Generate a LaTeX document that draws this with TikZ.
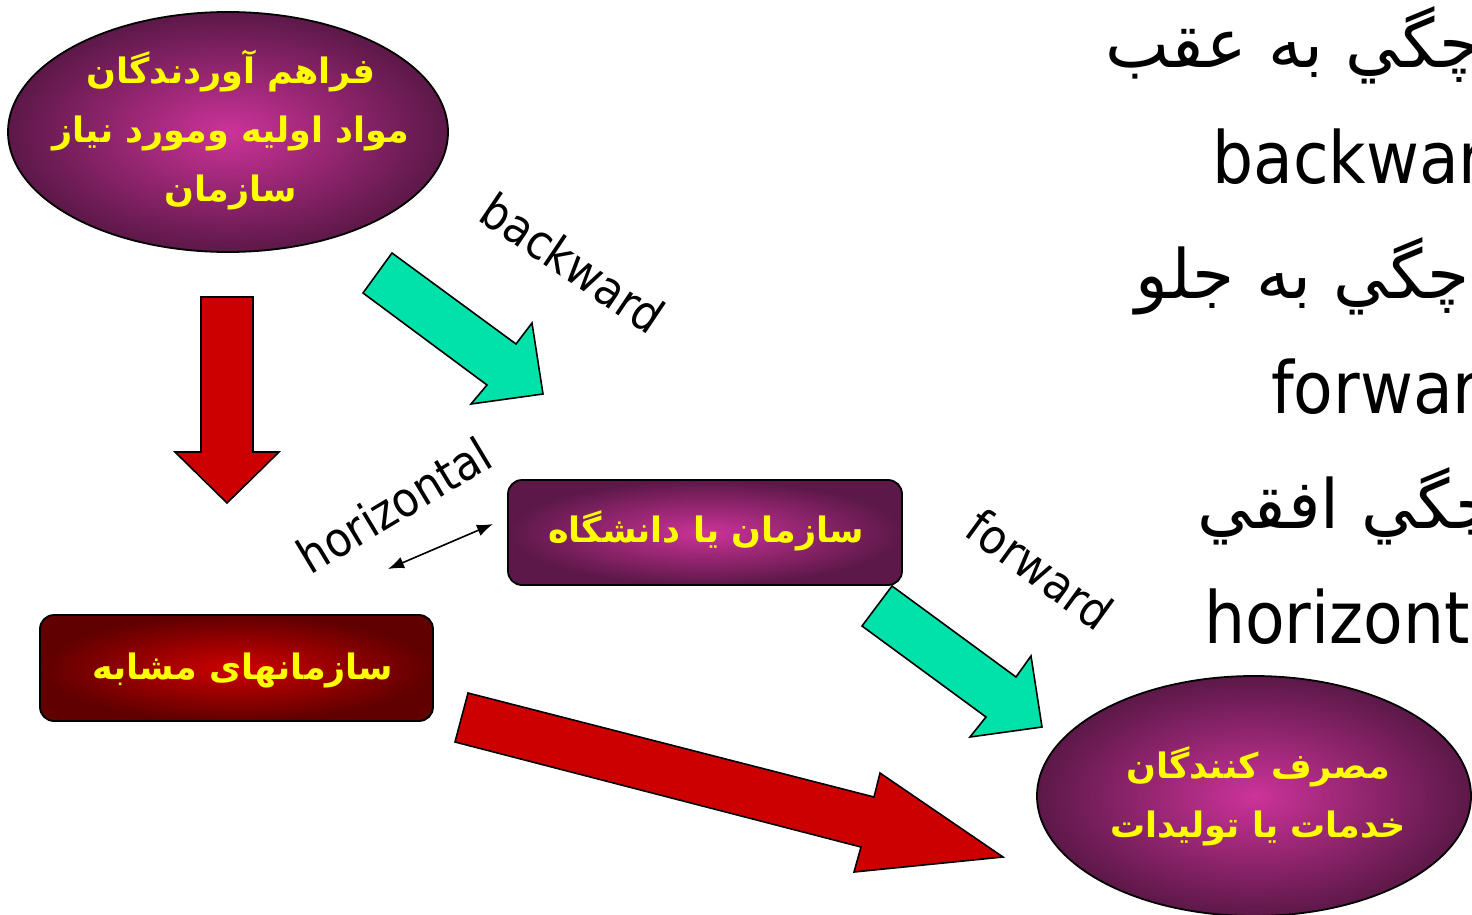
\documentclass[tikz,border=0pt]{standalone}
\usepackage{fontspec}
\usetikzlibrary{shapes.geometric,arrows.meta}
\TeXXeTstate=1
\newfontfamily\arabicfont[Script=Arabic]{DejaVu Sans}
\newfontfamily\latinfont{DejaVu Sans Condensed}
\definecolor{magc}{RGB}{204,51,153}
\definecolor{mage}{RGB}{92,24,72}
\definecolor{redc}{RGB}{206,0,0}
\definecolor{rede}{RGB}{96,0,0}
\definecolor{arrteal}{RGB}{0,226,170}
\definecolor{arrred}{RGB}{204,0,0}
\definecolor{txtyellow}{RGB}{255,255,0}
\tikzset{
  blockarrow/.style={draw=black, line width=1.6pt, line join=miter},
  purpleshade/.style={draw=black, line width=1.8pt, inner color=magc, outer color=mage},
  redshade/.style={draw=black, line width=1.8pt, inner color=redc, outer color=rede},
  nodetext/.style={text=txtyellow, align=center, inner sep=0pt,
    font=\arabicfont\bfseries\fontsize{35}{59}\selectfont},
  sidetext/.style={anchor=base west, inner sep=0pt, font=\fontsize{72}{86}\selectfont},
  difflabel/.style={inner sep=0pt, font=\latinfont\fontsize{48}{54}\selectfont},
}
\begin{document}
\begin{tikzpicture}[x=1pt,y=-1pt]
\path[use as bounding box, clip] (0,0) rectangle (1472,915);
\fill[white] (0,0) rectangle (1472,915);

% suppliers ellipse
\node[ellipse, purpleshade, minimum width=440pt, minimum height=240pt, inner sep=0pt] (sup) at (228,132) {};
\node[nodetext] (suptext) at (231,130) {\beginR فراهم آوردندگان\endR\\\beginR مواد اوليه ومورد نياز\endR\\\beginR سازمان\endR};

% organisation box
\node[rectangle, rounded corners=14pt, purpleshade, minimum width=394pt, minimum height=105pt] (org) at (705,532.5)
  {};
\node[nodetext] (orgtext) at (706,531) {\beginR سازمان يا دانشگاه\endR};

% similar organisations box
\node[rectangle, rounded corners=14pt, redshade, minimum width=393pt, minimum height=106pt] (sim) at (236.5,668)
  {};
\node[nodetext] (simtext) at (243,670) {\beginR سازمانهای مشابه\endR};

% consumers ellipse
\node[ellipse, purpleshade, minimum width=434pt, minimum height=240pt, inner sep=0pt] (con) at (1254,796) {};
\node[nodetext] (context) at (1258,796) {\beginR مصرف كنندگان\endR\\\beginR خدمات يا توليدات\endR};

% block arrows
\filldraw[blockarrow, fill=arrred] (201,297) -- (253,297) -- (253,452) -- (279,452) -- (227,503) -- (175,452) -- (201,452) -- cycle;
\filldraw[blockarrow, fill=arrteal] (392,253) -- (516,344) -- (532,323) -- (543,394) -- (471,404) -- (487,385) -- (363,293) -- cycle;
\filldraw[blockarrow, fill=arrteal] (892,586) -- (1016,677) -- (1031,656) -- (1042,727) -- (970,737) -- (986,717) -- (862,626) -- cycle;
\filldraw[blockarrow, fill=arrred] (468,693) -- (874,797) -- (880,773) -- (1003,857) -- (854,872) -- (861,847) -- (455,742) -- cycle;

% horizontal double arrow
\coordinate (hA) at (388,569);
\coordinate (hB) at (493,524);
\draw[line width=1.6pt, {Latex[length=16pt,width=12pt]}-{Latex[length=16pt,width=12pt]}] (hA) -- (hB);

% labels
\node[difflabel, rotate=-34] (lback) at (573,263) {backward};
\node[difflabel, rotate=31] (lhor) at (394,505) {horizontal};
\node[difflabel, rotate=-36] (lfor) at (1040,569) {forward};

% right-hand text
\node[sidetext, font=\arabicfont\fontsize{68}{86}\selectfont] (r1) at (1105,68) {\beginR چگي به عقب\endR};
\node[sidetext, font=\latinfont\fontsize{72}{86}\selectfont] (r2) at (1212,183) {backward};
\node[sidetext, font=\arabicfont\fontsize{68}{86}\selectfont] (r3) at (1135,298) {\beginR چگي به جلو\endR};
\node[sidetext, font=\latinfont\fontsize{72}{86}\selectfont] (r4) at (1271,413) {forward};
\node[sidetext, font=\arabicfont\fontsize{68}{86}\selectfont] (r5) at (1197,528) {\beginR چگي افقي\endR};
\node[sidetext, font=\latinfont\fontsize{72}{86}\selectfont] (r6) at (1204,643) {horizontal};
\end{tikzpicture}
\end{document}
